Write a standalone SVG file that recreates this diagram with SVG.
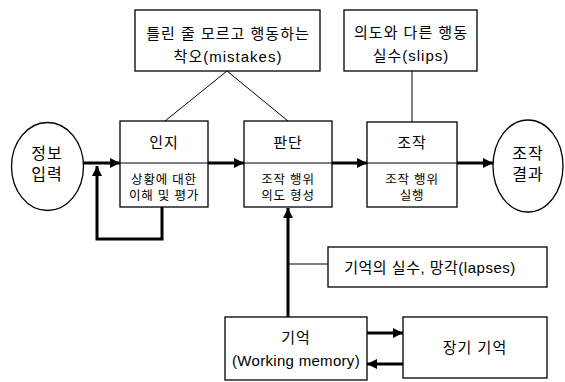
<svg xmlns="http://www.w3.org/2000/svg" width="565" height="382" viewBox="0 0 565 382">
<defs>
<style>
.box{fill:#fff;stroke:#000;stroke-width:1.3}
.thin{fill:none;stroke:#000;stroke-width:1}
.thick{fill:none;stroke:#000;stroke-width:3}
text{font-family:"Liberation Sans","Noto Sans CJK KR",sans-serif;fill:#000;text-anchor:middle}
.t15{font-size:15px;letter-spacing:1px}
.t16{font-size:16px;letter-spacing:1px}
.t13{font-size:12.5px;letter-spacing:0.8px}
</style>
<marker id="ah" viewBox="0 0 10 10" refX="10" refY="5" markerWidth="10" markerHeight="10" markerUnits="userSpaceOnUse" orient="auto">
<path d="M0,0 L10,5 L0,10 Z" fill="#000"/>
</marker>
<marker id="ahb" viewBox="0 0 10 10" refX="10" refY="5" markerWidth="12" markerHeight="10" markerUnits="userSpaceOnUse" orient="auto">
<path d="M0,0 L10,5 L0,10 Z" fill="#000"/>
</marker>
</defs>
<rect width="565" height="382" fill="#fff"/>

<g id="connectors">
<line class="thin" x1="227" y1="71" x2="165" y2="121"/>
<line class="thin" x1="227" y1="71" x2="288" y2="121"/>
<line class="thin" x1="412" y1="71" x2="412" y2="122"/>
<line class="thick" x1="83" y1="163" x2="120" y2="163" marker-end="url(#ahb)"/>
<polyline class="thick" points="162,207 162,239 97,239 97,166" marker-end="url(#ahb)"/>
<line class="thick" x1="208" y1="163" x2="244" y2="163" marker-end="url(#ahb)"/>
<line class="thick" x1="332" y1="163" x2="367" y2="163" marker-end="url(#ahb)"/>
<line class="thick" x1="457" y1="163" x2="493" y2="163" marker-end="url(#ahb)"/>
<line class="thick" x1="288" y1="317" x2="288" y2="208" marker-end="url(#ahb)"/>
<line class="thin" x1="288" y1="264" x2="328" y2="264"/>
<line class="thick" x1="367" y1="333" x2="403" y2="333" marker-end="url(#ah)"/>
<line class="thick" x1="403" y1="364" x2="367" y2="364" marker-end="url(#ah)"/>
</g>

<g id="mistakes">
<rect class="box" x="135" y="10" width="185" height="61"/>
<text class="t15" x="228" y="39">틀린 줄 모르고 행동하는</text>
<text class="t15" x="228" y="62">착오(mistakes)</text>
</g>

<g id="slips">
<rect class="box" x="344" y="10" width="133" height="61"/>
<text class="t15" x="411" y="38">의도와 다른 행동</text>
<text class="t15" x="411" y="61">실수(slips)</text>
</g>

<g id="input">
<ellipse class="box" cx="47.5" cy="166.5" rx="36" ry="44"/>
<text class="t16" x="47" y="159">정보</text>
<text class="t16" x="47" y="180">입력</text>
</g>

<g id="cognition">
<rect class="box" x="120" y="121" width="88" height="86"/>
<line class="thin" x1="120" y1="163" x2="208" y2="163"/>
<text class="t15" x="164" y="148">인지</text>
<text class="t13" x="164" y="184">상황에 대한</text>
<text class="t13" x="164" y="200">이해 및 평가</text>
</g>

<g id="judgment">
<rect class="box" x="244" y="121" width="88" height="86"/>
<line class="thin" x1="244" y1="163" x2="332" y2="163"/>
<text class="t15" x="288" y="148">판단</text>
<text class="t13" x="288" y="184">조작 행위</text>
<text class="t13" x="288" y="200">의도 형성</text>
</g>

<g id="operation">
<rect class="box" x="367" y="122" width="90" height="85"/>
<line class="thin" x1="367" y1="163" x2="457" y2="163"/>
<text class="t15" x="412" y="148">조작</text>
<text class="t13" x="412" y="184">조작 행위</text>
<text class="t13" x="412" y="200">실행</text>
</g>

<g id="result">
<ellipse class="box" cx="528" cy="166" rx="35" ry="46"/>
<text class="t16" x="528" y="159">조작</text>
<text class="t16" x="528" y="180">결과</text>
</g>

<g id="lapses">
<rect class="box" x="328" y="247" width="219" height="40"/>
<text class="t15" x="430" y="273" style="letter-spacing:0.5px">기억의 실수, 망각(lapses)</text>
</g>

<g id="working-memory">
<rect class="box" x="225" y="317" width="142" height="63"/>
<text class="t15" x="296" y="343">기억</text>
<text class="t15" x="296" y="366" style="letter-spacing:0.3px">(Working memory)</text>
</g>

<g id="long-term-memory">
<rect class="box" x="403" y="317" width="144" height="61"/>
<text class="t15" x="475" y="353">장기 기억</text>
</g>
</svg>
